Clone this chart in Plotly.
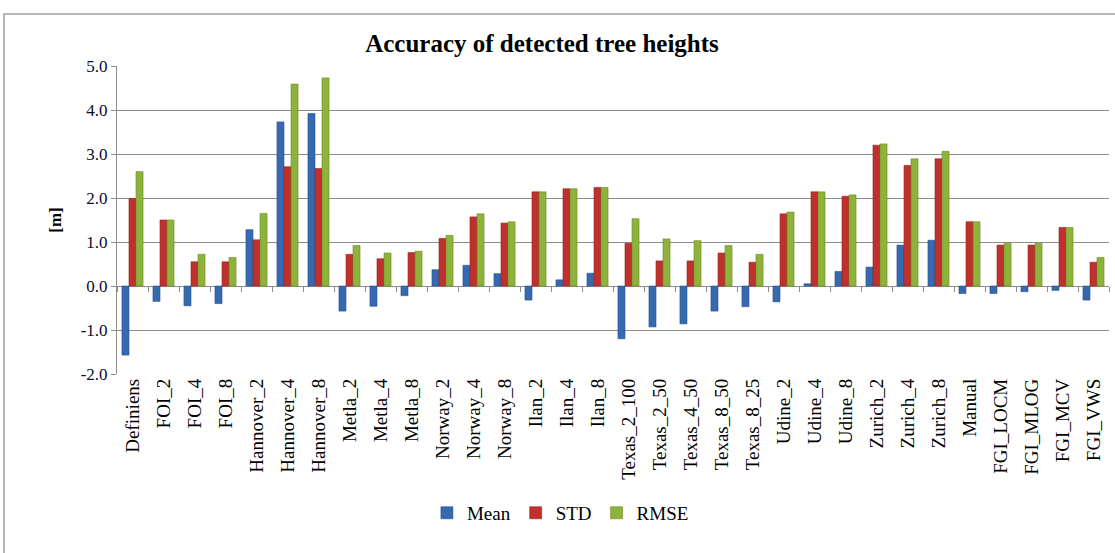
import plotly.graph_objects as go

categories = ["Definiens", "FOI_2", "FOI_4", "FOI_8", "Hannover_2", "Hannover_4", "Hannover_8",
              "Metla_2", "Metla_4", "Metla_8", "Norway_2", "Norway_4", "Norway_8",
              "Ilan_2", "Ilan_4", "Ilan_8", "Texas_2_100", "Texas_2_50", "Texas_4_50",
              "Texas_8_50", "Texas_8_25", "Udine_2", "Udine_4", "Udine_8",
              "Zurich_2", "Zurich_4", "Zurich_8", "Manual", "FGI_LOCM", "FGI_MLOG",
              "FGI_MCV", "FGI_VWS"]
mean = [-1.57, -0.35, -0.45, -0.40, 1.28, 3.73, 3.92, -0.57, -0.46, -0.22, 0.37, 0.47, 0.28,
        -0.32, 0.14, 0.29, -1.20, -0.93, -0.86, -0.57, -0.47, -0.36, 0.05, 0.33,
        0.43, 0.93, 1.04, -0.17, -0.17, -0.13, -0.10, -0.32]
std = [1.99, 1.50, 0.55, 0.55, 1.05, 2.71, 2.67, 0.72, 0.62, 0.76, 1.08, 1.57, 1.43,
       2.14, 2.21, 2.24, 0.97, 0.57, 0.57, 0.75, 0.54, 1.64, 2.14, 2.04,
       3.20, 2.74, 2.89, 1.46, 0.93, 0.93, 1.33, 0.54]
rmse = [2.60, 1.50, 0.72, 0.65, 1.65, 4.59, 4.73, 0.92, 0.75, 0.79, 1.15, 1.64, 1.46,
        2.14, 2.21, 2.24, 1.53, 1.07, 1.03, 0.92, 0.72, 1.68, 2.14, 2.07,
        3.23, 2.89, 3.06, 1.46, 0.97, 0.97, 1.33, 0.65]
y_ticks = [-2, -1, 0, 1, 2, 3, 4, 5]
y_tick_labels = [f"{v:.1f}" for v in y_ticks]
y_min, y_max = -2, 5

serif = "Liberation Serif, Times New Roman, serif"
fig = go.Figure()
for name, vals, col, edge in [("Mean", mean, "#3569b0", "#2a5390"),
                              ("STD", std, "#c0312d", "#962522"),
                              ("RMSE", rmse, "#8db33a", "#6b8a2b")]:
    fig.add_trace(go.Bar(name=name, x=categories, y=vals,
                         marker=dict(color=col, line=dict(color=edge, width=0.6))))
# invisible helper trace to carry the category axis drawn at the zero line
fig.add_trace(go.Scatter(x=categories, y=mean, xaxis="x2", mode="markers",
                         marker=dict(opacity=0), showlegend=False, hoverinfo="skip"))

x_range = [-0.5, len(categories) - 0.5]
fig.update_layout(
    width=1115, height=553,
    paper_bgcolor="white", plot_bgcolor="white",
    barmode="group", bargap=0.32, bargroupgap=0.0,
    margin=dict(l=117, r=6, t=66, b=179, autoexpand=False),
    font=dict(family=serif, color="black", size=15),
    title=dict(text="<b>Accuracy of detected tree heights</b>", x=542/1115, xanchor="center",
               y=1-43/553, yanchor="middle", font=dict(family=serif, size=25)),
    legend=dict(orientation="h", x=0.447, xanchor="center", y=-0.451, yanchor="middle",
                font=dict(family=serif, size=19), itemwidth=30, traceorder="normal"),
    showlegend=True,
    xaxis=dict(range=x_range, tickangle=-90, tickfont=dict(size=19, family=serif),
               showline=False, ticks="", showgrid=False, automargin=False),
    xaxis2=dict(overlaying="x", range=x_range, anchor="free",
                position=(0 - y_min) / (y_max - y_min),
                showticklabels=False, ticks="outside", tickson="boundaries", ticklen=5,
                tickcolor="#8c8c8c", showgrid=False, showline=False, zeroline=False),
)
fig.update_yaxes(range=[y_min, y_max], tickvals=y_ticks, ticktext=y_tick_labels, automargin=False,
                 showgrid=True, gridcolor="#8c8c8c", gridwidth=1,
                 zeroline=True, zerolinecolor="#8c8c8c", zerolinewidth=1,
                 showline=True, linecolor="#8c8c8c", ticks="outside", ticklen=5,
                 tickcolor="#8c8c8c", tickfont=dict(size=17, family=serif, color="#0a0a28"),
                 title=dict(text="<b>[m]</b>", font=dict(size=17, family=serif), standoff=14))
fig.add_shape(type="rect", xref="paper", yref="paper",
              x0=-113/992, x1=1.2, y0=-0.9, y1=1+52/308,
              line=dict(color="#a0a0a0", width=1.5), layer="below")
fig.write_html("out.html", config={"displayModeBar": False},
               post_script="document.body.style.margin='0';")
